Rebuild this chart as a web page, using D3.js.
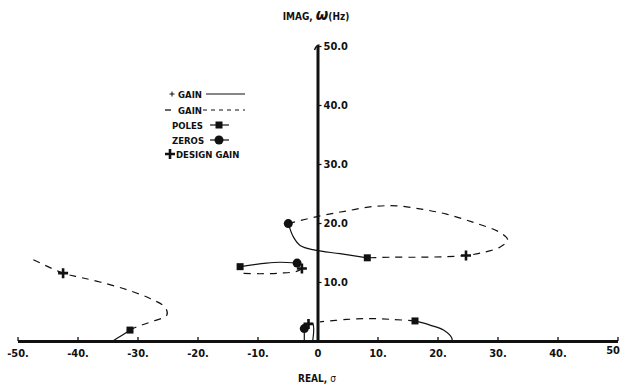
<!DOCTYPE html>
<html>
<head>
<meta charset="utf-8">
<script src="https://cdnjs.cloudflare.com/ajax/libs/d3/7.8.5/d3.min.js"></script>
<style>
  body { margin: 0; background: #fff; }
  text { font-family: "DejaVu Sans Condensed", "DejaVu Sans", sans-serif; font-stretch: condensed; font-weight: bold; fill: #111; }
</style>
</head>
<body>
<script>
// x tick values and labels (real axis)
var x_ticks = [-50, -40, -30, -20, -10, 0, 10, 20, 30, 40, 50];
var x_tick_labels = ["-50.", "-40.", "-30.", "-20.", "-10.", "0", "10.", "20.", "30.", "40.", "50"];
var y_ticks = [10, 20, 30, 40, 50];
var y_tick_labels = ["10.0", "20.0", "30.0", "40.0", "50.0"];

// root locus branches, [sigma, omega]; solid = + gain, dashed = - gain
var pos_gain_1 = [[-31.25, 1.85], [-32.7, 0.9], [-34.1, 0]];
var neg_gain_1 = [[-31.25, 1.85], [-30.1, 2.4], [-27.9, 3.2], [-25.1, 4.4], [-25.4, 5.7], [-27.9, 7.2],
                  [-31.8, 8.7], [-36.25, 10.0], [-39.6, 10.8], [-42.4, 11.5], [-47.6, 13.9]];
var pos_gain_2 = [[-4.87, 19.9], [-4.0, 17.6], [-2.9, 16.2], [-0.4, 15.4], [3.75, 14.8], [8.3, 14.1]];
var neg_gain_2 = [[-4.87, 19.9], [0.42, 21.2], [4.87, 22.05], [9.3, 22.8], [13.2, 22.9], [17.6, 22.3],
                  [21.5, 21.5], [26.0, 20.1], [30.4, 18.4], [31.7, 17.1], [30.4, 15.9], [27.1, 14.9],
                  [24.75, 14.5], [21.5, 14.3], [17.1, 14.2], [12.1, 14.2], [8.3, 14.1]];
var pos_gain_3 = [[-12.9, 12.6], [-8.5, 13.2], [-6.25, 13.35], [-3.4, 13.2]];
var neg_gain_3 = [[-2.6, 12.3], [-3.5, 11.8], [-6.25, 11.5], [-9.6, 11.4], [-12.9, 11.5]];
var pos_gain_4 = [[16.25, 3.4], [18.75, 2.7], [21.0, 1.85], [22.4, 0.45], [22.4, 0]];
var neg_gain_4 = [[16.25, 3.4], [12.6, 3.65], [8.75, 3.8], [4.9, 3.65], [0.4, 3.25]];
var pos_gain_5 = [[-2.2, 0], [-2.2, 2.1]];
var pos_gain_6 = [[-1.8, 2.9], [-0.8, 2.9], [-0.8, 0]];

var poles = [[-31.25, 1.85], [8.3, 14.1], [-12.9, 12.6], [16.25, 3.4]];
var zeros = [[-4.87, 19.9], [-3.4, 13.2], [-2.2, 2.1]];
var design_gain = [[-42.4, 11.5], [24.75, 14.5], [-2.6, 12.3], [-1.5, 2.9]];

var legend_labels = ["GAIN", "GAIN", "POLES", "ZEROS", "DESIGN GAIN"];

var width = 621, height = 389;

var x_scale = d3.scaleLinear().domain([-50, 50]).range([17.5, 617.5]),
    y_scale = d3.scaleLinear().domain([0, 50]).range([341, 46]);

var svg = d3.select("body").append("svg")
    .attr("width", width)
    .attr("height", height);

// x-axis
var x_axis = d3.axisBottom(x_scale)
    .tickValues(x_ticks)
    .tickSizeInner(-4)
    .tickSizeOuter(0)
    .tickPadding(8)
    .tickFormat(function(d, i) { return x_tick_labels[i]; });

var gx = svg.append("g")
    .attr("class", "x axis")
    .attr("transform", "translate(0," + y_scale(0) + ")")
    .call(x_axis);
gx.select(".domain").attr("stroke", "#111").attr("stroke-width", 3);
gx.selectAll(".tick line").attr("stroke", "#111").attr("stroke-width", 1.3);
gx.selectAll(".tick text").style("font-size", "11px").attr("fill", "#111")
    .attr("text-anchor", function(d) { return d === 50 ? "end" : "middle"; })
    .attr("dx", function(d) { return d === 50 ? 2 : 0; })
    .attr("y", function(d) { return d === 50 ? 5 : 8; });

// y-axis sits at sigma = 0
var y_axis = d3.axisRight(y_scale)
    .tickValues(y_ticks)
    .tickSizeInner(4)
    .tickSizeOuter(0)
    .tickPadding(2)
    .tickFormat(function(d, i) { return y_tick_labels[i]; });

var gy = svg.append("g")
    .attr("class", "y axis")
    .attr("transform", "translate(" + x_scale(0) + ",0)")
    .call(y_axis);
gy.select(".domain").attr("stroke", "#111").attr("stroke-width", 3);
gy.selectAll(".tick line").attr("stroke", "#111").attr("stroke-width", 1.2);
gy.selectAll(".tick text").style("font-size", "11px").attr("fill", "#111");

// little hook at the top of the imaginary axis
svg.append("path")
    .attr("d", "M" + (x_scale(0) - 3) + "," + (y_scale(50) + 4) + " Q" + (x_scale(0) - 1) + "," + (y_scale(50) - 1) + " " + (x_scale(0) + 2) + "," + (y_scale(50) - 1))
    .attr("fill", "none").attr("stroke", "#111").attr("stroke-width", 1.5);

// axis titles
svg.append("text")
    .attr("x", 316).attr("y", 20)
    .attr("text-anchor", "middle")
    .style("font-size", "10px")
    .html('IMAG, <tspan style="font-size:16px;font-style:italic;font-family:DejaVu Sans">ω</tspan>(Hz)');

svg.append("text")
    .attr("x", 317).attr("y", 382)
    .attr("text-anchor", "middle")
    .style("font-size", "10px")
    .html('REAL, <tspan style="font-weight:normal;font-family:DejaVu Sans">σ</tspan>');

var line = d3.line()
    .x(function(d) { return x_scale(d[0]); })
    .y(function(d) { return y_scale(d[1]); })
    .curve(d3.curveCatmullRom.alpha(0.5));

[pos_gain_1, pos_gain_2, pos_gain_3, pos_gain_4, pos_gain_5, pos_gain_6].forEach(function(b) {
  svg.append("path").datum(b)
      .attr("d", line)
      .attr("fill", "none").attr("stroke", "#111").attr("stroke-width", 1.2);
});

[neg_gain_1, neg_gain_2, neg_gain_3, neg_gain_4].forEach(function(b) {
  svg.append("path").datum(b)
      .attr("d", line)
      .attr("fill", "none").attr("stroke", "#111").attr("stroke-width", 1.2)
      .attr("stroke-dasharray", "7,6");
});

function cross(g, cx, cy, s, w) {
  g.append("path")
    .attr("d", "M" + (cx - s) + "," + cy + "H" + (cx + s) + "M" + cx + "," + (cy - s) + "V" + (cy + s))
    .attr("stroke", "#111").attr("stroke-width", w).attr("fill", "none");
}

svg.selectAll(".pole")
    .data(poles)
  .enter().append("rect")
    .attr("class", "pole")
    .attr("x", function(d) { return x_scale(d[0]) - 3.5; })
    .attr("y", function(d) { return y_scale(d[1]) - 3.5; })
    .attr("width", 7).attr("height", 7)
    .attr("fill", "#111");

svg.selectAll(".zero")
    .data(zeros)
  .enter().append("circle")
    .attr("class", "zero")
    .attr("cx", function(d) { return x_scale(d[0]); })
    .attr("cy", function(d) { return y_scale(d[1]); })
    .attr("r", 4.5)
    .attr("fill", "#111");

design_gain.forEach(function(d) {
  cross(svg, x_scale(d[0]), y_scale(d[1]), 5, 2.6);
});

// legend
var lg = svg.append("g").attr("class", "legend");
var ly = [97, 113, 128, 143, 157];

cross(lg, 172, ly[0] - 3, 2.5, 1);
lg.append("line").attr("x1", 206).attr("x2", 245).attr("y1", ly[0] - 3).attr("y2", ly[0] - 3)
    .attr("stroke", "#111").attr("stroke-width", 1);
lg.append("line").attr("x1", 165).attr("x2", 171).attr("y1", ly[1] - 3).attr("y2", ly[1] - 3)
    .attr("stroke", "#111").attr("stroke-width", 1.3);
lg.append("line").attr("x1", 203).attr("x2", 245).attr("y1", ly[1] - 3).attr("y2", ly[1] - 3)
    .attr("stroke", "#111").attr("stroke-width", 1).attr("stroke-dasharray", "4,4");
lg.append("line").attr("x1", 210).attr("x2", 229).attr("y1", ly[2] - 3).attr("y2", ly[2] - 3)
    .attr("stroke", "#111").attr("stroke-width", 1.2);
lg.append("rect").attr("x", 215.5).attr("y", ly[2] - 6.5).attr("width", 7).attr("height", 7).attr("fill", "#111");
lg.append("line").attr("x1", 210).attr("x2", 229).attr("y1", ly[3] - 3).attr("y2", ly[3] - 3)
    .attr("stroke", "#111").attr("stroke-width", 1.2);
lg.append("circle").attr("cx", 219).attr("cy", ly[3] - 3).attr("r", 4.5).attr("fill", "#111");
cross(lg, 170, ly[4] - 3, 5, 2.6);

var lx = [178, 178, 172, 172, 176];
lg.selectAll(".ltext")
    .data(legend_labels)
  .enter().append("text")
    .attr("class", "ltext")
    .attr("x", function(d, i) { return lx[i]; })
    .attr("y", function(d, i) { return ly[i] + 1; })
    .style("font-size", "9.5px")
    .text(function(d) { return d; });
</script>
</body>
</html>
